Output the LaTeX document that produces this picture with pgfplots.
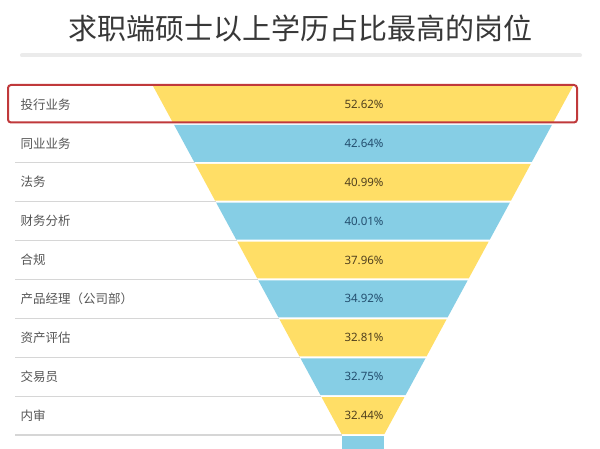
\documentclass[border=0pt]{standalone}
\usepackage{pgfplots}
\pgfplotsset{compat=1.18}
\usepackage{fontspec}
\setmainfont{Noto Sans CJK SC}
\newfontfamily\numfont{Noto Sans}
\definecolor{fy}{RGB}{255,222,102}
\definecolor{fb}{RGB}{134,206,229}
\definecolor{ty}{RGB}{80,64,30}
\definecolor{tb}{RGB}{35,78,110}
\definecolor{lab}{RGB}{85,85,85}
\definecolor{hl}{RGB}{192,57,59}
\begin{document}
\begin{tikzpicture}
\begin{axis}[
  scale only axis, width=600pt, height=449pt,
  xmin=0, xmax=600, ymin=0, ymax=449, y dir=reverse,
  hide axis, clip=true,
]
\fill[white] (axis cs:0,0) rectangle (axis cs:600,449);
% title
\node[font=\fontsize{29pt}{32pt}\selectfont, text=black!78] at (axis cs:300,28) {求职端硕士以上学历占比最高的岗位};
\addplot[black!8, line width=4pt, line cap=round] coordinates {(22,55.5) (580,55.5)};
% separators
\addplot[black!16, line width=1.4pt] coordinates {(15,162.8) (194.6,162.8)};
\addplot[black!16, line width=1.4pt] coordinates {(15,201.7) (215.7,201.7)};
\addplot[black!16, line width=1.4pt] coordinates {(15,240.6) (236.8,240.6)};
\addplot[black!16, line width=1.4pt] coordinates {(15,279.5) (257.8,279.5)};
\addplot[black!16, line width=1.4pt] coordinates {(15,318.4) (278.9,318.4)};
\addplot[black!16, line width=1.4pt] coordinates {(15,357.3) (300,357.3)};
\addplot[black!16, line width=1.4pt] coordinates {(15,396.2) (321.1,396.2)};
\addplot[black!16, line width=1.4pt] coordinates {(15,435.1) (342.1,435.1)};
% funnel bands
\addplot[fill=fy, draw=none] coordinates {(153,86) (573,86) (553,122.9) (173,122.9)} -- cycle;
\addplot[fill=fb, draw=none] coordinates {(174.1,124.9) (551.9,124.9) (531.9,161.8) (194.1,161.8)} -- cycle;
\addplot[fill=fy, draw=none] coordinates {(195.2,163.8) (530.8,163.8) (510.9,200.7) (215.1,200.7)} -- cycle;
\addplot[fill=fb, draw=none] coordinates {(216.2,202.7) (509.8,202.7) (489.8,239.6) (236.2,239.6)} -- cycle;
\addplot[fill=fy, draw=none] coordinates {(237.3,241.6) (488.7,241.6) (468.7,278.5) (257.3,278.5)} -- cycle;
\addplot[fill=fb, draw=none] coordinates {(258.4,280.5) (467.6,280.5) (447.6,317.4) (278.4,317.4)} -- cycle;
\addplot[fill=fy, draw=none] coordinates {(279.5,319.4) (446.5,319.4) (426.6,356.3) (299.4,356.3)} -- cycle;
\addplot[fill=fb, draw=none] coordinates {(300.5,358.3) (425.5,358.3) (405.5,395.2) (320.5,395.2)} -- cycle;
\addplot[fill=fy, draw=none] coordinates {(321.6,397.2) (404.4,397.2) (384.4,434.1) (341.6,434.1)} -- cycle;
\addplot[fill=fb, draw=none] coordinates {(341.6,436.1) (384.4,436.1) (384.4,452) (341.6,452)} -- cycle;
% highlight
\draw[hl, line width=2pt, rounded corners=3pt] (axis cs:8,85) rectangle (axis cs:577,122.5);
% labels
\begin{scope}[every node/.style={anchor=west, font=\fontsize{12.5pt}{14pt}\selectfont, text=lab}]
\node at (axis cs:17,104.4) {投行业务};
\node at (axis cs:17,143.3) {同业业务};
\node at (axis cs:17,182.2) {法务};
\node at (axis cs:17,221.1) {财务分析};
\node at (axis cs:17,260.0) {合规};
\node at (axis cs:17,298.9) {产品经理（公司部）};
\node at (axis cs:17,337.8) {资产评估};
\node at (axis cs:17,376.7) {交易员};
\node at (axis cs:17,415.6) {内审};
\end{scope}
\begin{scope}[every node/.style={font=\numfont\fontsize{11.5pt}{13pt}\selectfont}]
\node[text=ty] at (axis cs:364,104.4) {52.62\%};
\node[text=tb] at (axis cs:364,143.3) {42.64\%};
\node[text=ty] at (axis cs:364,182.2) {40.99\%};
\node[text=tb] at (axis cs:364,221.1) {40.01\%};
\node[text=ty] at (axis cs:364,260.0) {37.96\%};
\node[text=tb] at (axis cs:364,298.9) {34.92\%};
\node[text=ty] at (axis cs:364,337.8) {32.81\%};
\node[text=tb] at (axis cs:364,376.7) {32.75\%};
\node[text=ty] at (axis cs:364,415.6) {32.44\%};
\end{scope}
\end{axis}
\pgfresetboundingbox
\path (0,0) rectangle (600pt,449pt);
\end{tikzpicture}
\end{document}
